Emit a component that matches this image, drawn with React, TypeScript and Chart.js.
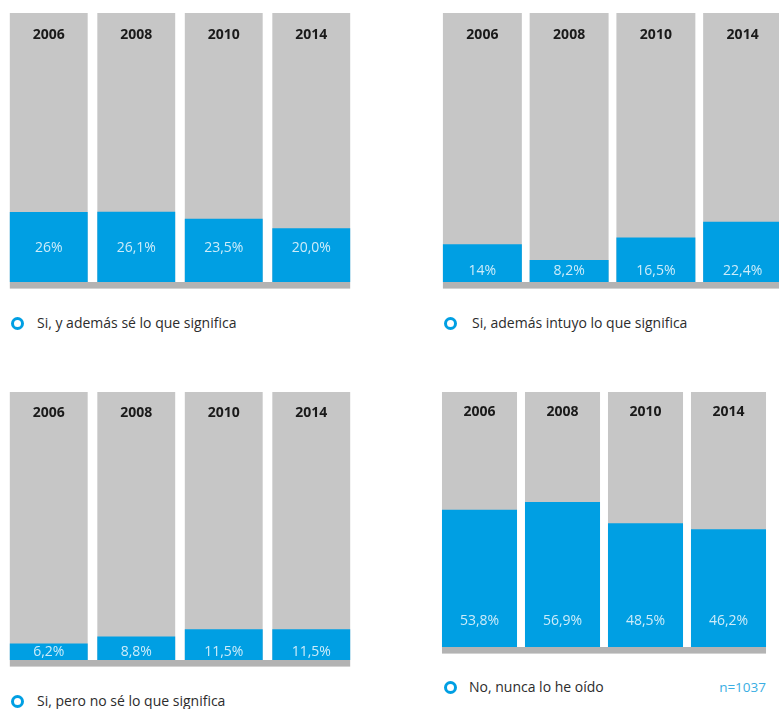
import React, { useEffect, useRef } from 'react';
import { Chart, registerables } from 'chart.js';

Chart.register(...registerables);

const categories = ['2006', '2008', '2010', '2014'];
const fullScale = [100, 100, 100, 100];

const knowMeaningValues = [26, 26.1, 23.5, 20.0];
const knowMeaningLabels = ['26%', '26,1%', '23,5%', '20,0%'];

const intuitValues = [14, 8.2, 16.5, 22.4];
const intuitLabels = ['14%', '8,2%', '16,5%', '22,4%'];

const noMeaningValues = [6.2, 8.8, 11.5, 11.5];
const noMeaningLabels = ['6,2%', '8,8%', '11,5%', '11,5%'];

const neverHeardValues = [53.8, 56.9, 48.5, 46.2];
const neverHeardLabels = ['53,8%', '56,9%', '48,5%', '46,2%'];

const seriesNames = [
  'Si, y además sé lo que significa',
  'Si, además intuyo lo que significa',
  'Si, pero no sé lo que significa',
  'No, nunca lo he oído',
];
const sampleNote = 'n=1037';

const FONT = '"Open Sans", "Noto Sans", sans-serif';
const BLUE = '#009fe3';
const GRAY = '#c6c6c6';

type PanelProps = {
  values: number[];
  labels: string[];
  left: number;
  top: number;
  width: number;
  plotHeight: number;
  barPct: number;
  valueOffset: number;
  yearOffset: number;
};

function Panel({ values, labels, left, top, width, plotHeight, barPct, valueOffset, yearOffset }: PanelProps) {
  const ref = useRef<HTMLCanvasElement>(null);
  useEffect(() => {
    if (!ref.current) return;
    const decor = {
      id: 'panelDecor',
      afterDatasetsDraw(chart: any) {
        const ctx = chart.ctx;
        const area = chart.chartArea;
        const els = chart.getDatasetMeta(0).data as any[];
        if (!els.length) return;
        ctx.save();
        const first = els[0];
        const last = els[els.length - 1];
        const x0 = first.x - first.width / 2;
        const x1 = last.x + last.width / 2;
        ctx.fillStyle = '#b3b3b3';
        ctx.fillRect(x0, area.bottom, x1 - x0, 6);
        ctx.fillStyle = '#d2d2d2';
        ctx.fillRect(x0, area.bottom + 6, x1 - x0, 1);
        ctx.textAlign = 'center';
        ctx.textBaseline = 'middle';
        ctx.font = `bold 14px ${FONT}`;
        ctx.fillStyle = '#1a1a1a';
        els.forEach((el, i) => {
          ctx.fillText(String(chart.data.labels[i]), el.x, area.top + yearOffset);
        });
        ctx.font = `14px ${FONT}`;
        ctx.fillStyle = 'rgba(255,255,255,0.8)';
        els.forEach((el, i) => {
          ctx.fillText(labels[i], el.x, area.bottom - valueOffset);
        });
        ctx.restore();
      },
    };
    const chart = new Chart(ref.current, {
      type: 'bar',
      data: {
        labels: categories,
        datasets: [
          {
            data: values,
            backgroundColor: BLUE,
            borderWidth: 0,
            grouped: false,
            barPercentage: barPct,
            categoryPercentage: 1,
          },
          {
            data: fullScale,
            backgroundColor: GRAY,
            borderWidth: 0,
            grouped: false,
            barPercentage: barPct,
            categoryPercentage: 1,
          },
        ],
      },
      options: {
        animation: false,
        responsive: true,
        maintainAspectRatio: false,
        events: [],
        layout: { padding: { left: 0, right: 0, top: 0, bottom: 10 } },
        plugins: { legend: { display: false }, tooltip: { enabled: false } },
        scales: {
          x: { display: false, offset: true },
          y: { display: false, min: 0, max: 100 },
        },
      },
      plugins: [decor],
    });
    return () => chart.destroy();
  }, []);
  return (
    <div style={{ position: 'absolute', left, top, width, height: plotHeight + 10 }}>
      <canvas ref={ref} />
    </div>
  );
}

function LegendItem({ cx, cy, textX, text }: { cx: number; cy: number; textX: number; text: string }) {
  return (
    <>
      <div
        style={{
          position: 'absolute',
          left: cx - 6.5,
          top: cy - 6.5,
          width: 13,
          height: 13,
          boxSizing: 'border-box',
          border: `3px solid ${BLUE}`,
          borderRadius: '50%',
        }}
      />
      <div
        style={{
          position: 'absolute',
          left: textX,
          top: cy - 10,
          lineHeight: '20px',
          fontFamily: FONT,
          fontSize: 14,
          color: '#2c2c2c',
          whiteSpace: 'nowrap',
        }}
      >
        {text}
      </div>
    </>
  );
}

export default function App() {
  return (
    <div
      style={{
        position: 'fixed',
        left: 0,
        top: 0,
        width: 779,
        height: 709,
        overflow: 'hidden',
        background: '#ffffff',
      }}
    >
      <Panel values={knowMeaningValues} labels={knowMeaningLabels} left={5} top={13} width={350} plotHeight={269} barPct={0.89} valueOffset={34} yearOffset={22} />
      <Panel values={intuitValues} labels={intuitLabels} left={439} top={13} width={347} plotHeight={269} barPct={0.91} valueOffset={11} yearOffset={22} />
      <Panel values={noMeaningValues} labels={noMeaningLabels} left={5} top={392} width={350} plotHeight={268} barPct={0.89} valueOffset={8} yearOffset={21} />
      <Panel values={neverHeardValues} labels={neverHeardLabels} left={438} top={392} width={332} plotHeight={255} barPct={0.904} valueOffset={26} yearOffset={20} />

      <LegendItem cx={17} cy={323} textX={37} text={seriesNames[0]} />
      <LegendItem cx={450} cy={323} textX={472} text={seriesNames[1]} />
      <LegendItem cx={17} cy={701} textX={37} text={seriesNames[2]} />
      <LegendItem cx={450} cy={687} textX={469} text={seriesNames[3]} />
      <div
        style={{
          position: 'absolute',
          right: 779 - 766,
          top: 687 - 10,
          lineHeight: '20px',
          fontFamily: FONT,
          fontSize: 13.5,
          color: '#3aaee3',
          whiteSpace: 'nowrap',
        }}
      >
        {sampleNote}
      </div>
    </div>
  );
}
